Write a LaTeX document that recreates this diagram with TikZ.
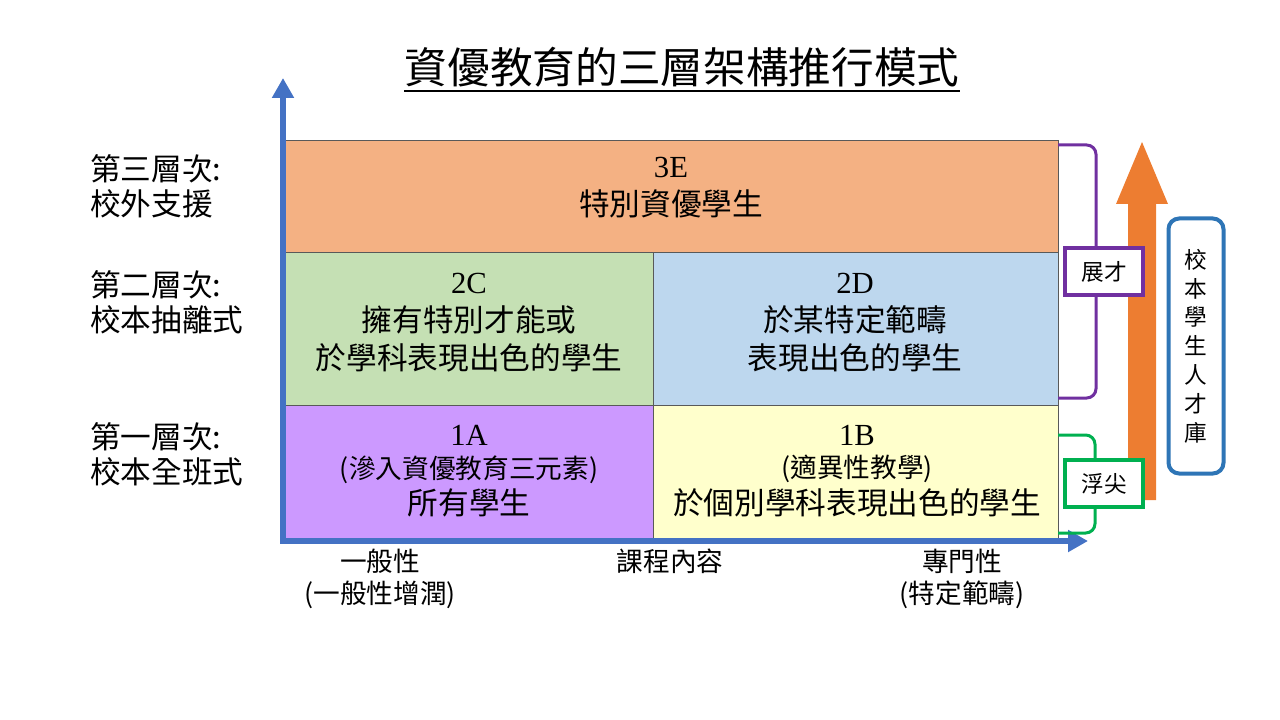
\documentclass[tikz,border=0pt]{standalone}
\usepackage{fontspec}
\setmainfont{Noto Sans CJK TC}
\newfontfamily\lat{Liberation Serif}
\usetikzlibrary{arrows.meta}
\definecolor{axisblue}{HTML}{4472C4}
\definecolor{c3e}{HTML}{F4B183}
\definecolor{c2c}{HTML}{C5E0B4}
\definecolor{c2d}{HTML}{BDD7EE}
\definecolor{c1a}{HTML}{CC99FF}
\definecolor{c1b}{HTML}{FFFFCC}
\definecolor{cpurple}{HTML}{7030A0}
\definecolor{cgreen}{HTML}{00B050}
\definecolor{corange}{HTML}{ED7D31}
\definecolor{cblue}{HTML}{2E75B6}
\definecolor{edge}{HTML}{595959}
\tikzset{
  cell/.style={draw=edge, line width=0.8pt, inner sep=0pt, anchor=north west},
  main/.style={font=\fontsize{23}{28.5}\selectfont, align=center, inner sep=0pt, anchor=base},
  small/.style={font=\fontsize{20}{24}\selectfont, align=center, inner sep=0pt, anchor=base},
  side/.style={font=\fontsize{23}{26.25}\selectfont, align=left, inner sep=0pt, anchor=base west},
  tag/.style={fill=white, line width=3pt, minimum width=78*0.75pt, minimum height=47*0.75pt, inner sep=0pt, font=\fontsize{17}{20}\selectfont},
}
\begin{document}
\begin{tikzpicture}[x=0.75pt, y=-0.75pt]
\useasboundingbox (0,0) rectangle (1280,720);
% title
\node[inner sep=0pt, anchor=base, font=\fontsize{32}{38}\selectfont] (title) at (682,84) {資優教育的三層架構推行模式};
\draw[line width=1.5pt] ([yshift=-5.5pt]title.base west) -- ([yshift=-5.5pt]title.base east);
% cells
\node[cell, fill=c3e, minimum width=773*0.75pt, minimum height=112*0.75pt] (e3) at (285,140) {};
\node[cell, fill=c2c, minimum width=368*0.75pt, minimum height=153*0.75pt] (c2) at (285,252) {};
\node[cell, fill=c2d, minimum width=405*0.75pt, minimum height=153*0.75pt] (d2) at (653,252) {};
\node[cell, fill=c1a, minimum width=368*0.75pt, minimum height=135*0.75pt] (a1) at (285,405) {};
\node[cell, fill=c1b, minimum width=405*0.75pt, minimum height=135*0.75pt] (b1) at (653,405) {};
% cell texts
\node[main] (t3e) at (671,216) {{\lat 3E}\\特別資優學生};
\node[main] (t2c) at (469,369) {{\lat 2C}\\擁有特別才能或\\於學科表現出色的學生};
\node[main] (t2d) at (855,369) {{\lat 2D}\\於某特定範疇\\表現出色的學生};
\node[main] (t1a) at (469,445) {\lat 1A};
\node[inner sep=0pt, anchor=base, font=\fontsize{20}{24}\selectfont] (p1a) at (469,478) {(滲入資優教育三元素)};
\node[main] (s1a) at (469,514) {所有學生};
\node[main] (t1b) at (857,445) {\lat 1B};
\node[inner sep=0pt, anchor=base, font=\fontsize{20}{24}\selectfont] (p1b) at (857,477) {(適異性教學)};
\node[main] (s1b) at (857,514) {於個別學科表現出色的學生};
% axes
\coordinate (ytip) at (283,78);
\coordinate (origin) at (283,541);
\coordinate (xtip) at (1088,541);
\draw[axisblue, line width=4.5pt, line join=miter, {Triangle[width=21*0.75pt, length=20*0.75pt]}-{Triangle[width=21*0.75pt, length=20*0.75pt]}] (ytip) -- (origin) -- (xtip);
% left labels
\node[side] (l3) at (90,216) {第三層次:\\校外支援};
\node[side] (l2) at (90,331) {第二層次:\\校本抽離式};
\node[side] (l1) at (90,483) {第一層次:\\校本全班式};
% bottom labels
\node[small] (g1) at (380,603) {一般性\\(一般性增潤)};
\node[small] (g2) at (670,571) {課程內容};
\node[small] (g3) at (962,603) {專門性\\(特定範疇)};
% orange arrow
\fill[corange] (1128,500) -- (1128,204) -- (1116,204) -- (1142,142) -- (1168,204) -- (1156,204) -- (1156,500) -- cycle;
% brackets
\draw[cpurple, line width=2.25pt, rounded corners=7pt] (1058,145) -- (1096,145) -- (1096,398) -- (1058,398);
\draw[cgreen, line width=2.25pt, rounded corners=7pt] (1058,435) -- (1095,435) -- (1095,533) -- (1058,533);
\node[tag, draw=cpurple] (zc) at (1104,271.5) {展才};
\node[tag, draw=cgreen] (fj) at (1104,483.5) {浮尖};
% talent pool box
\node[draw=cblue, line width=3pt, rounded corners=8pt, minimum width=55*0.75pt, minimum height=255*0.75pt, inner sep=0pt, align=center, font=\fontsize{17}{21.6}\selectfont] (pool) at (1196,346) {校\\本\\學\\生\\人\\才\\庫};
\end{tikzpicture}
\end{document}
